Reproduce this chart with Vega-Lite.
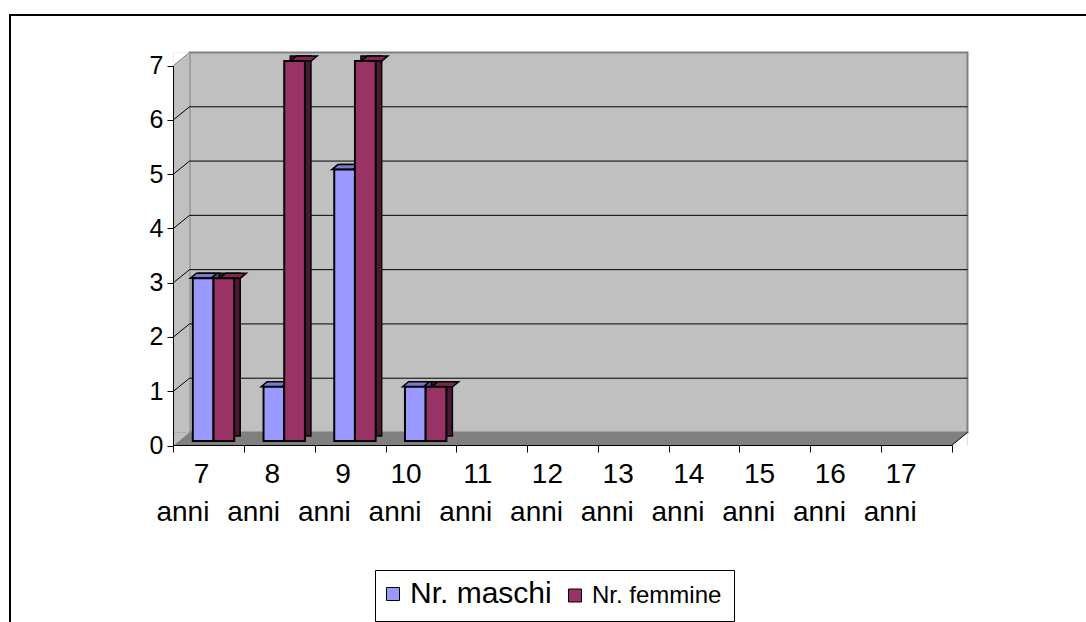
{
  "$schema": "https://vega.github.io/schema/vega-lite/v6.json",
  "width": 1100,
  "height": 625,
  "autosize": {"type": "none"},
  "padding": {"left": 10, "top": 15, "right": 0, "bottom": 0},
  "background": "white",
  "config": {"font": "Liberation Sans", "view": {"stroke": "black", "strokeWidth": 2}},
  "datasets": {
    "counts": [
      {"age": "7 anni", "series": "Nr. maschi", "count": 3},
      {"age": "7 anni", "series": "Nr. femmine", "count": 3},
      {"age": "8 anni", "series": "Nr. maschi", "count": 1},
      {"age": "8 anni", "series": "Nr. femmine", "count": 7},
      {"age": "9 anni", "series": "Nr. maschi", "count": 5},
      {"age": "9 anni", "series": "Nr. femmine", "count": 7},
      {"age": "10 anni", "series": "Nr. maschi", "count": 1},
      {"age": "10 anni", "series": "Nr. femmine", "count": 1}
    ],
    "ticks": [{"v": 1}, {"v": 2}, {"v": 3}, {"v": 4}, {"v": 5}, {"v": 6}, {"v": 7}],
    "one": [{"k": 1}]
  },
  "resolve": {"scale": {"xOffset": "independent"}},
  "layer": [
    {
      "data": {"name": "one"},
      "mark": {"type": "rect", "fill": "#C0C0C0", "stroke": "#808080", "strokeWidth": 2, "xOffset": 16, "x2Offset": 16, "yOffset": -13, "y2Offset": -13},
      "encoding": {
        "x": {"datum": "7 anni", "type": "nominal", "bandPosition": 0,
          "scale": {"type": "band", "domain": ["7 anni", "8 anni", "9 anni", "10 anni", "11 anni", "12 anni", "13 anni", "14 anni", "15 anni", "16 anni", "17 anni"], "range": [163.5, 941.5], "paddingInner": 0, "paddingOuter": 0}
        },
        "x2": {"datum": "17 anni", "bandPosition": 1},
        "y": {"datum": 0, "type": "quantitative",
          "scale": {"domain": [0, 7], "range": [430.5, 50.5], "nice": false, "zero": false}
        },
        "y2": {"datum": 7}
      }
    },
    {
      "data": {"name": "one"},
      "mark": {"type": "rect", "fill": "#C0C0C0", "x2Offset": 16, "y2Offset": -13},
      "encoding": {
        "x": {"datum": "7 anni", "type": "nominal", "bandPosition": 0},
        "x2": {"datum": "7 anni", "bandPosition": 0},
        "y": {"datum": 0, "type": "quantitative"},
        "y2": {"datum": 7}
      }
    },
    {
      "data": {"name": "one"},
      "mark": {"type": "point", "shape": "M0,0 L0,-1.625 L2,-1.625 Z", "size": 256, "filled": true, "fill": "white", "opacity": 1, "strokeWidth": 0},
      "encoding": {
        "x": {"datum": "7 anni", "type": "nominal", "bandPosition": 0},
        "y": {"datum": 7, "type": "quantitative"}
      }
    },
    {
      "data": {"name": "ticks"},
      "transform": [{"filter": "datum.v < 7"}],
      "mark": {"type": "rule", "color": "black", "strokeWidth": 1, "xOffset": 16, "x2Offset": 16, "yOffset": -13},
      "encoding": {
        "x": {"datum": "7 anni", "type": "nominal", "bandPosition": 0},
        "x2": {"datum": "17 anni", "bandPosition": 1},
        "y": {"field": "v", "type": "quantitative"}
      }
    },
    {
      "data": {"name": "one"},
      "mark": {"type": "rect", "fill": "#808080", "x2Offset": 16, "y2Offset": -13},
      "encoding": {
        "x": {"datum": "7 anni", "type": "nominal", "bandPosition": 0},
        "x2": {"datum": "17 anni", "bandPosition": 1},
        "y": {"datum": 0, "type": "quantitative"},
        "y2": {"datum": 0}
      }
    },
    {
      "data": {"name": "one"},
      "mark": {"type": "point", "shape": "M0,0 L0,-1.625 L2,-1.625 Z", "size": 256, "filled": true, "fill": "#C0C0C0", "opacity": 1, "strokeWidth": 0},
      "encoding": {
        "x": {"datum": "7 anni", "type": "nominal", "bandPosition": 0},
        "y": {"datum": 0, "type": "quantitative"}
      }
    },
    {
      "data": {"name": "one"},
      "mark": {"type": "point", "shape": "M0,0 L2,-1.625 L2,0.1 Z", "size": 256, "filled": true, "fill": "white", "opacity": 1, "strokeWidth": 0},
      "encoding": {
        "x": {"datum": "17 anni", "type": "nominal", "bandPosition": 1},
        "y": {"datum": 0, "type": "quantitative"}
      }
    },
    {
      "data": {"name": "ticks"},
      "mark": {"type": "rule", "strokeWidth": 1, "x2Offset": 16, "y2Offset": -13},
      "encoding": {
        "x": {"datum": "7 anni", "type": "nominal", "bandPosition": 0},
        "x2": {"datum": "7 anni", "bandPosition": 0},
        "y": {"field": "v", "type": "quantitative"},
        "y2": {"field": "v"},
        "color": {"condition": {"test": "datum.v == 7", "value": "#808080"}, "value": "black"}
      }
    },
    {
      "data": {"name": "one"},
      "mark": {"type": "rule", "color": "black", "strokeWidth": 1, "x2Offset": 16, "y2Offset": -13},
      "encoding": {
        "x": {"datum": "17 anni", "type": "nominal", "bandPosition": 1},
        "x2": {"datum": "17 anni", "bandPosition": 1},
        "y": {"datum": 0, "type": "quantitative"},
        "y2": {"datum": 0}
      }
    },
    {
      "data": {"name": "counts"},
      "mark": {"type": "bar", "stroke": "black", "strokeWidth": 1.5, "yOffset": -9.5, "y2Offset": -9.5},
      "encoding": {
        "x": {"field": "age", "type": "nominal"},
        "xOffset": {"field": "series", "type": "nominal", "scale": {"domain": ["Nr. maschi", "Nr. femmine"], "paddingInner": 0, "paddingOuter": 0.708, "align": 0.863}},
        "y": {"field": "count", "type": "quantitative"},
        "fill": {"condition": {"test": "datum.series == 'Nr. maschi'", "value": "#4C4C80"}, "value": "#4C1933"}
      }
    },
    {
      "data": {"name": "counts"},
      "mark": {"type": "point", "shape": "M-1,0 L1,0 L1.58,-0.483 L-0.42,-0.483 Z", "size": 428.5, "filled": true, "opacity": 1, "stroke": "black", "strokeWidth": 1.5, "yOffset": -4.5},
      "encoding": {
        "x": {"field": "age", "type": "nominal"},
        "xOffset": {"field": "series", "type": "nominal", "scale": {"domain": ["Nr. maschi", "Nr. femmine"], "paddingInner": 0, "paddingOuter": 0.708, "align": 0.658}},
        "y": {"field": "count", "type": "quantitative"},
        "fill": {"condition": {"test": "datum.series == 'Nr. maschi'", "value": "#7A7ACC"}, "value": "#7A2952"}
      }
    },
    {
      "data": {"name": "counts"},
      "mark": {"type": "bar", "stroke": "black", "strokeWidth": 2, "yOffset": -4.5, "y2Offset": -4.5},
      "encoding": {
        "x": {"field": "age", "type": "nominal",
          "axis": {"orient": "bottom", "offset": -195, "tickBand": "extent", "tickSize": 7, "labelFontSize": 28, "labelPadding": 22, "labelLineHeight": 38, "labelExpr": "split(datum.label, ' ')", "labelAngle": 0, "title": null, "domainColor": "black", "tickColor": "black", "labelColor": "black", "zindex": 1, "labelOverlap": false, "grid": false}
        },
        "xOffset": {"field": "series", "type": "nominal", "scale": {"domain": ["Nr. maschi", "Nr. femmine"], "paddingInner": 0, "paddingOuter": 0.708, "align": 0.658}},
        "y": {"field": "count", "type": "quantitative",
          "axis": {"orient": "left", "offset": -163, "values": [0, 1, 2, 3, 4, 5, 6, 7], "format": "d", "labelFontSize": 25, "labelColor": "black", "tickColor": "black", "domainColor": "black", "tickSize": 6, "labelPadding": 4, "grid": false, "title": null, "zindex": 1}
        },
        "color": {"field": "series", "type": "nominal",
          "scale": {"domain": ["Nr. maschi", "Nr. femmine"], "range": ["#9999FF", "#993366"]},
          "legend": {"orient": "none", "legendX": 365, "legendY": 555, "direction": "horizontal", "columns": 2, "title": null,
            "strokeColor": "black", "fillColor": "white", "padding": 12,
            "symbolType": "square", "symbolSize": 169, "symbolStrokeColor": "black", "symbolStrokeWidth": 1, "symbolOpacity": 1, "symbolOffset": -6,
            "labelOffset": 5, "columnPadding": 14, "labelColor": "black", "labelLimit": 400,
            "labelFontSize": {"expr": "datum.label === 'Nr. maschi' ? 30 : 24"}}
        }
      }
    }
  ]
}
